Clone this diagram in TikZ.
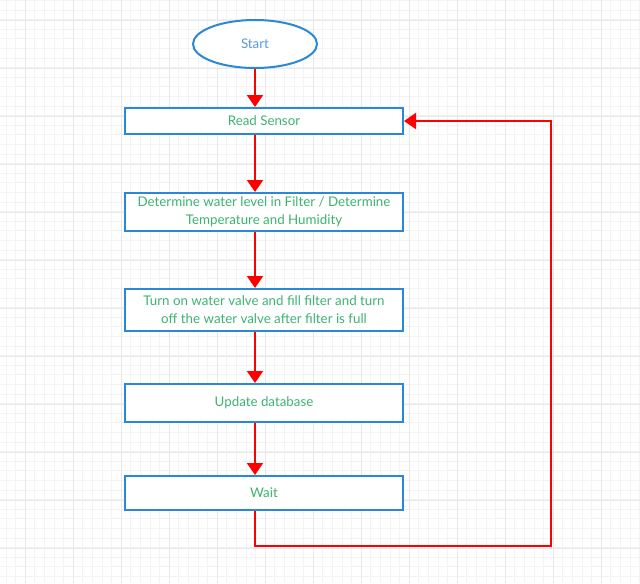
\documentclass[tikz,border=0pt]{standalone}
\usepackage{fontspec}
\setmainfont{Lato}
\usepackage{xcolor}
\usetikzlibrary{arrows.meta}
\usetikzlibrary{calc}
\usetikzlibrary{shapes.geometric}

\definecolor{boxblue}{RGB}{43,136,216}
\definecolor{startblue}{RGB}{91,155,213}
\definecolor{textgreen}{RGB}{60,179,113}
\definecolor{gridminor}{RGB}{243,243,243}
\definecolor{gridmajor}{RGB}{232,232,232}

\begin{document}
\begin{tikzpicture}[x=0.75pt, y=-0.75pt,
    stepbox/.style={draw=boxblue, line width=1.5pt, fill=white, minimum width=208.5pt, align=center, text=textgreen, font=\fontsize{10}{13.5}\selectfont, inner sep=0pt},
    startnode/.style={ellipse, draw=boxblue, line width=1.5pt, fill=white, minimum width=93pt, minimum height=36pt, text=startblue, font=\fontsize{10}{13.5}\selectfont},
    flow/.style={red, line width=1.5pt, -{Triangle[width=12pt, length=9pt]}}]
    \useasboundingbox (0,0) rectangle (640,583);
    \fill[white] (0,0) rectangle (640,583);

    % grid
    \foreach \i in {0,...,66}
      \draw[gridminor, line width=0.75pt] ({6.1+9.6*\i},0) -- ({6.1+9.6*\i},583);
    \foreach \i in {0,...,60}
      \draw[gridminor, line width=0.75pt] (0,{0.5+9.6*\i}) -- (640,{0.5+9.6*\i});
    \foreach \i in {0,...,13}
      \draw[gridmajor, line width=0.75pt] ({25.3+48*\i},0) -- ({25.3+48*\i},583);
    \foreach \i in {0,...,12}
      \draw[gridmajor, line width=0.75pt] (0,{20+48*\i}) -- (640,{20+48*\i});

    \node[startnode] (start) at (255,44) {Start};
    \node[stepbox, minimum height=19.5pt] (read) at (264,121) {Read Sensor};
    \node[stepbox, minimum height=28.5pt] (level) at (264,212) {Determine water level in Filter / Determine\\Temperature and Humidity};
    \node[stepbox, minimum height=31.5pt] (valve) at (264,310) {Turn on water valve and fill filter and turn\\off the water valve after filter is full};
    \node[stepbox, minimum height=28.5pt] (update) at (264,403) {Update database};
    \node[stepbox, minimum height=25.5pt] (wait) at (264,493) {Wait};

    \coordinate (c1) at (255,546);
    \coordinate (c2) at (551,546);
    \coordinate (c3) at (551,121);

    \draw[flow] (start.south) -- (start.south |- read.north);
    \draw[flow] (start.south |- read.south) -- (start.south |- level.north);
    \draw[flow] (start.south |- level.south) -- (start.south |- valve.north);
    \draw[flow] (start.south |- valve.south) -- (start.south |- update.north);
    \draw[flow] (start.south |- update.south) -- (start.south |- wait.north);
    \draw[flow] (start.south |- wait.south) -- (c1) -- (c2) -- (c3) -- (read.east);
  \end{tikzpicture}
\end{document}
